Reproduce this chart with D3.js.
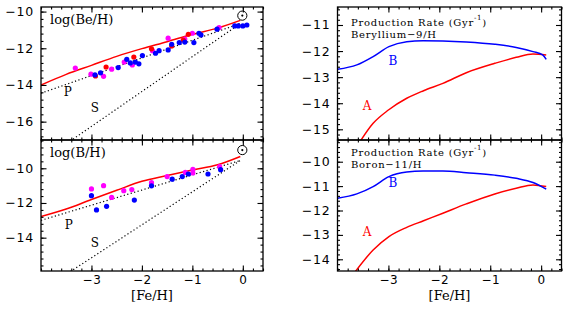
<!DOCTYPE html>
<html>
<head>
<meta charset="utf-8">
<script src="https://cdn.jsdelivr.net/npm/d3@7"></script>
<style>
  body { margin: 0; background: #fff; }
  svg { display: block; }
  text { font-family: "DejaVu Sans", sans-serif; fill: #000; }
  .lab { font-family: "DejaVu Serif", serif; }
</style>
</head>
<body>
<svg id="canvas"></svg>
<script>
// ---- data ----
let feTicks = [-3, -2, -1, 0];
let beAbundTicks = [-16, -14, -12, -10];
let bAbundTicks = [-14, -12, -10];
let beRateTicks = [-15, -14, -13, -12, -11];
let bRateTicks = [-14, -13, -12, -11, -10];

// model curves (red) for abundances
let beModel = [[-4, -14.0], [-3.5, -13.42], [-3, -12.93], [-2.5, -12.44], [-2, -12.02],
  [-1.5, -11.64], [-1, -11.24], [-0.5, -10.9], [-0.05, -10.48]];
let bModel = [[-4, -12.78], [-3.5, -12.35], [-3, -11.8], [-2.5, -11.27], [-2, -10.75],
  [-1.5, -10.42], [-1, -10.1], [-0.5, -9.8], [-0.05, -9.32]];

// straight dotted P and S lines
let beP = [[-4, -14.45], [-0.05, -10.65]];
let beS = [[-3.6, -17.4], [-0.05, -10.65]];
let bP = [[-4, -13.0], [-0.05, -9.55]];
let bS = [[-3.6, -16.3], [-0.05, -9.55]];

// observed stars
let beMagenta = [[-3.32, -13.08], [-3.01, -13.41], [-2.76, -13.53], [-2.6, -13.14], [-2.35, -12.75],
  [-2.19, -12.91], [-1.79, -12.13], [-1.48, -11.45], [-1.15, -11.5], [-1.0, -11.18], [-0.47, -10.87]];
let beRed = [[-2.92, -13.51], [-2.71, -13.02], [-2.16, -12.48], [-1.81, -12.03], [-1.41, -11.87],
  [-1.18, -11.55], [-1.08, -11.24]];
let beBlue = [[-2.93, -13.45], [-2.82, -13.34], [-2.47, -13.05], [-2.3, -12.6], [-2.23, -12.8],
  [-2.13, -12.75], [-2.06, -12.85], [-1.99, -12.4], [-1.73, -12.27], [-1.66, -12.13], [-1.48, -12.09],
  [-1.41, -11.78], [-1.26, -11.69], [-1.15, -11.66], [-0.97, -11.69], [-0.87, -11.18], [-0.83, -11.27],
  [-0.51, -10.96], [-0.16, -10.78], [-0.09, -10.78], [0.0, -10.78], [0.08, -10.73]];

let bMagenta = [[-3.0, -11.19], [-2.76, -11.0], [-2.6, -11.68], [-2.36, -11.29], [-2.2, -11.23],
  [-1.81, -10.83], [-1.5, -10.48], [-1.14, -10.24], [-0.99, -10.06], [-0.99, -10.27], [-0.46, -9.91]];
let bBlue = [[-3.0, -11.58], [-2.9, -12.4], [-2.7, -12.19], [-2.15, -11.83], [-1.81, -11.01],
  [-1.4, -10.63], [-1.2, -10.48], [-1.08, -10.33], [-0.69, -10.33], [-0.44, -10.08]];

// production rates
let beRateA = [[-3.6, -15.6], [-3.3, -14.77], [-3, -14.26], [-2.64, -13.81], [-2.31, -13.52],
  [-1.93, -13.24], [-1.47, -12.83], [-0.91, -12.47], [-0.49, -12.24], [-0.16, -12.11], [0.1, -12.15]];
let beRateB = [[-4, -12.7], [-3.62, -12.53], [-3.3, -12.21], [-2.99, -11.83], [-2.64, -11.64],
  [-2.32, -11.6], [-1.93, -11.61], [-1.47, -11.65], [-0.91, -11.74], [-0.49, -11.86], [-0.16, -12.02],
  [0.03, -12.15], [0.1, -12.32]];
let bRateA = [[-3.72, -14.7], [-3.3, -13.62], [-2.99, -13.07], [-2.64, -12.69], [-2.31, -12.42],
  [-1.93, -12.11], [-1.47, -11.73], [-0.91, -11.32], [-0.49, -11.09], [-0.16, -10.95], [0.1, -11.02]];
let bRateB = [[-4, -11.5], [-3.62, -11.32], [-3.3, -11.02], [-2.99, -10.61], [-2.64, -10.42],
  [-2.32, -10.38], [-1.93, -10.38], [-1.47, -10.45], [-0.91, -10.55], [-0.49, -10.68], [-0.16, -10.85],
  [0.1, -11.12]];

// ---- layout ----
let width = 568;
let height = 310;

let canvas = d3.select("#canvas").attr("width", width).attr("height", height);

let range = (a, b, step) => d3.range(Math.round(a / step), Math.round(b / step) + 1).map(i => +(i * step).toFixed(4));
let minus = d => d3.format("d")(d).replace("-", "\u2212");

let drawPanel = (p) => {
  let xScale = d3.scaleLinear().domain([-4, 0.4]).range([p.x0, p.x1]);
  let yScale = d3.scaleLinear().domain(p.yDomain).range([p.y1, p.y0]);
  let g = canvas.append("g");

  let clipId = "clip" + p.id;
  g.append("clipPath").attr("id", clipId)
    .append("rect").attr("x", p.x0).attr("y", p.y0).attr("width", p.x1 - p.x0).attr("height", p.y1 - p.y0);

  let plot = g.append("g").attr("clip-path", "url(#" + clipId + ")");
  let line = d3.line().x(d => xScale(d[0])).y(d => yScale(d[1]));
  let curve = d3.line().x(d => xScale(d[0])).y(d => yScale(d[1])).curve(d3.curveMonotoneX);

  (p.dotted || []).forEach(d => {
    plot.append("path").attr("d", line(d)).attr("fill", "none")
      .attr("stroke", "#000").attr("stroke-width", 1.2).attr("stroke-dasharray", "1.2,2.4");
  });
  (p.curves || []).forEach(c => {
    plot.append("path").attr("d", curve(c.data)).attr("fill", "none")
      .attr("stroke", c.color).attr("stroke-width", 1.5);
  });
  (p.dots || []).forEach(s => {
    plot.selectAll(null).data(s.data).enter().append("circle")
      .attr("cx", d => xScale(d[0])).attr("cy", d => yScale(d[1])).attr("r", 2.6)
      .attr("fill", s.color);
  });

  if (p.sun) {
    g.append("circle").attr("cx", xScale(p.sun[0])).attr("cy", yScale(p.sun[1])).attr("r", 4.6)
      .attr("fill", "none").attr("stroke", "#000").attr("stroke-width", 1);
    g.append("circle").attr("cx", xScale(p.sun[0])).attr("cy", yScale(p.sun[1])).attr("r", 1.1)
      .attr("fill", "#000");
  }

  (p.notes || []).forEach(n => {
    g.append("text").attr("class", "lab").attr("x", xScale(n.x)).attr("y", yScale(n.y))
      .attr("text-anchor", "middle").attr("dominant-baseline", "central")
      .style("font-size", "12px").style("fill", n.color || "#000").text(n.text);
  });

  // frame
  g.append("rect").attr("x", p.x0).attr("y", p.y0).attr("width", p.x1 - p.x0).attr("height", p.y1 - p.y0)
    .attr("fill", "none").attr("stroke", "#000").attr("stroke-width", 1.3);

  // ticks on all sides, pointing inward
  let xMinor = range(-4, 0.4, 0.2);
  let yMinor = range(p.yDomain[0], p.yDomain[1], p.yMinor).filter(v => v >= p.yDomain[0] && v <= p.yDomain[1]);
  let addAxis = (axis, tx, ty, labels) => {
    let a = g.append("g").attr("transform", "translate(" + tx + "," + ty + ")").call(axis);
    a.select(".domain").remove();
    a.selectAll("line").attr("stroke", "#000").attr("stroke-width", 1.1);
    if (!labels) a.selectAll("text").remove();
    return a;
  };
  addAxis(d3.axisBottom(xScale).tickValues(xMinor).tickSize(-2.5), 0, p.y1, false);
  addAxis(d3.axisTop(xScale).tickValues(xMinor).tickSize(-2.5), 0, p.y0, false);
  addAxis(d3.axisTop(xScale).tickValues(feTicks).tickSize(-5.5), 0, p.y0, false);
  let xb = addAxis(d3.axisBottom(xScale).tickValues(feTicks).tickSize(-5.5).tickFormat(minus), 0, p.y1, p.xLabels);
  xb.selectAll("text").style("font-size", "12px").style("letter-spacing", "0.5px")
    .attr("y", 9).attr("dy", "0.35em");

  addAxis(d3.axisLeft(yScale).tickValues(yMinor).tickSize(-2.5), p.x0, 0, false);
  addAxis(d3.axisRight(yScale).tickValues(yMinor).tickSize(-2.5), p.x1, 0, false);
  addAxis(d3.axisRight(yScale).tickValues(p.yTicks).tickSize(-5.5), p.x1, 0, false);
  let yl = addAxis(d3.axisLeft(yScale).tickValues(p.yTicks).tickSize(-5.5).tickPadding(7).tickFormat(minus), p.x0, 0, true);
  yl.selectAll("text").style("font-size", "12.5px").style("letter-spacing", "0.8px");

  // panel titles
  p.titles.forEach(t => {
    let tx = g.append("text").attr("class", "lab").attr("x", p.x0 + t.dx).attr("y", p.y0 + t.dy)
      .attr("dominant-baseline", "central").style("font-size", t.size + "px")
      .style("letter-spacing", (t.ls || 0) + "px");
    t.parts.forEach(part => {
      let s = tx.append("tspan").text(part.text);
      if (part.sup) s.attr("baseline-shift", "super").style("font-size", "7px");
    });
  });

  if (p.xLabels) {
    canvas.append("text").attr("class", "lab").attr("x", (p.x0 + p.x1) / 2).attr("y", 295)
      .attr("text-anchor", "middle").attr("dominant-baseline", "central")
      .style("font-size", "13px").text("[Fe/H]");
  }
};

drawPanel({
  id: "a", x0: 41, x1: 263, y0: 7, y1: 140, yDomain: [-17, -9.75], yTicks: beAbundTicks, yMinor: 0.4,
  xLabels: false, sun: [-0.01, -10.22],
  dotted: [beP, beS],
  curves: [{ data: beModel, color: "#ff0000" }],
  dots: [{ data: beMagenta, color: "#ff00ff" }, { data: beRed, color: "#ff0000" }, { data: beBlue, color: "#0000ff" }],
  notes: [{ x: -3.47, y: -14.36, text: "P" }, { x: -2.93, y: -15.27, text: "S" }],
  titles: [{ dx: 9, dy: 11.5, size: 13, parts: [{ text: "log(Be/H)" }] }]
});

drawPanel({
  id: "b", x0: 41, x1: 263, y0: 140, y1: 271, yDomain: [-15.92, -8.37], yTicks: bAbundTicks, yMinor: 0.4,
  xLabels: true, sun: [-0.01, -8.95],
  dotted: [bP, bS],
  curves: [{ data: bModel, color: "#ff0000" }],
  dots: [{ data: bMagenta, color: "#ff00ff" }, { data: bBlue, color: "#0000ff" }],
  notes: [{ x: -3.45, y: -13.27, text: "P" }, { x: -2.93, y: -14.29, text: "S" }],
  titles: [{ dx: 9, dy: 12, size: 13, parts: [{ text: "log(B/H)" }] }]
});

drawPanel({
  id: "c", x0: 337.5, x1: 561.5, y0: 7, y1: 140, yDomain: [-15.41, -10.31], yTicks: beRateTicks, yMinor: 0.2,
  xLabels: false,
  curves: [{ data: beRateA, color: "#ff0000" }, { data: beRateB, color: "#0000ff" }],
  notes: [{ x: -2.91, y: -12.37, text: "B", color: "#0000ff" }, { x: -3.42, y: -14.11, text: "A", color: "#ff0000" }],
  titles: [
    { dx: 13.5, dy: 15.0, size: 10, ls: 0.75, parts: [{ text: "Production Rate (Gyr" }, { text: "-1", sup: true }, { text: ")" }] },
    { dx: 13.5, dy: 26.8, size: 10, ls: 0.75, parts: [{ text: "Beryllium\u22129/H" }] }
  ]
});

drawPanel({
  id: "d", x0: 337.5, x1: 561.5, y0: 140, y1: 271, yDomain: [-14.48, -9.11], yTicks: bRateTicks, yMinor: 0.2,
  xLabels: true,
  curves: [{ data: bRateA, color: "#ff0000" }, { data: bRateB, color: "#0000ff" }],
  notes: [{ x: -2.91, y: -10.86, text: "B", color: "#0000ff" }, { x: -3.42, y: -12.87, text: "A", color: "#ff0000" }],
  titles: [
    { dx: 13.5, dy: 12.3, size: 10, ls: 0.75, parts: [{ text: "Production Rate (Gyr" }, { text: "-1", sup: true }, { text: ")" }] },
    { dx: 13.5, dy: 24.1, size: 10, ls: 0.75, parts: [{ text: "Boron\u221211/H" }] }
  ]
});
</script>
</body>
</html>
